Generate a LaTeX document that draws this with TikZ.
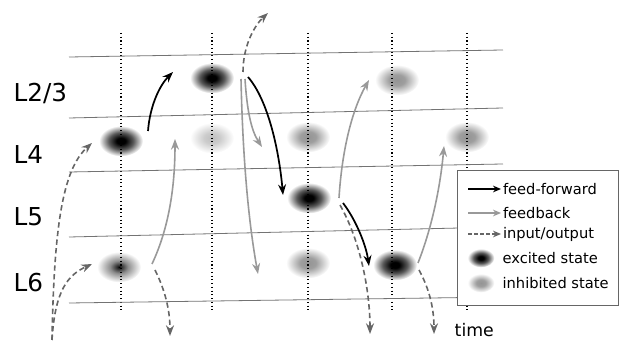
\documentclass[tikz,border=0pt]{standalone}
\usepackage{fontspec}
\setmainfont{DejaVu Sans}
\usepackage{tikz}
\usetikzlibrary{arrows.meta, shapes.geometric}
\pgfdeclareradialshading{excited}{\pgfpoint{0bp}{0bp}}{color(0bp)=(black); color(5bp)=(black); color(14bp)=(black!65); color(25bp)=(white); color(50bp)=(white)}
\pgfdeclareradialshading{weak}{\pgfpoint{0bp}{0bp}}{color(0bp)=(black); color(2bp)=(black!85); color(10bp)=(black!45); color(25bp)=(white); color(50bp)=(white)}
\pgfdeclareradialshading{inhibited}{\pgfpoint{0bp}{0bp}}{color(0bp)=(black!42); color(9bp)=(black!38); color(25bp)=(white); color(50bp)=(white)}
\pgfdeclareradialshading{faint}{\pgfpoint{0bp}{0bp}}{color(0bp)=(black!25); color(9bp)=(black!20); color(25bp)=(white); color(50bp)=(white)}

\begin{document}
\begin{tikzpicture}[x=0.75pt, y=-0.75pt,
    blob/.style={ellipse, inner sep=0pt, minimum width=33pt, minimum height=23pt, shade},
    legblob/.style={blob, minimum width=20pt, minimum height=14pt},
    layer/.style={black!55, line width=0.6pt},
    timeline/.style={dotted, line width=0.8pt},
    ff/.style={-{Stealth[length=8pt, width=6pt]}, line width=1.3pt},
    fb/.style={-{Stealth[length=8pt, width=6pt]}, line width=1.2pt, black!40},
    io/.style={-{Stealth[length=8pt, width=6pt]}, line width=1.2pt, black!60, dash pattern=on 4pt off 2.5pt},
    lab/.style={font=\fontsize{18.5}{20}\selectfont, anchor=west}]
    \useasboundingbox (0,0) rectangle (619,342);

    \node[blob, shading=excited] (e4a) at (121,141) {};
    \node[blob, shading=excited] (e23b) at (212,78) {};
    \node[blob, shading=faint] (i4b) at (212,138) {};
    \node[blob, shading=inhibited] (i4c) at (308,137) {};
    \node[blob, shading=excited] (e5c) at (309,198) {};
    \node[blob, shading=inhibited] (i23d) at (397,80) {};
    \node[blob, shading=inhibited] (i4e) at (467,137) {};
    \node[blob, shading=weak] (e6a) at (119,267) {};
    \node[blob, shading=inhibited] (i6c) at (308,263) {};
    \node[blob, shading=excited] (e6d) at (395,265) {};

    \foreach \t in {121,212,308,392,467}
        \draw[timeline] (\t,33) -- (\t,312);

    \draw[layer] (69,57) -- (503,50);
    \draw[layer] (69,118) -- (503,108);
    \draw[layer] (69,172) -- (503,164);
    \draw[layer] (69,237) -- (503,227);
    \draw[layer] (69,303) -- (503,297);

    \node[lab] (l23) at (9,93) {L2/3};
    \node[lab] (l4) at (9,155) {L4};
    \node[lab] (l5) at (9,217) {L5};
    \node[lab] (l6) at (9,283) {L6};

    \coordinate (ff1s) at (148,131); \coordinate (ff1e) at (173,72);
    \coordinate (ff2s) at (248,77);  \coordinate (ff2e) at (283,195);
    \coordinate (ff3s) at (343,203); \coordinate (ff3e) at (369,266);
    \draw[ff] (ff1s) .. controls (150,105) and (160,85) .. (ff1e);
    \draw[ff] (ff2s) .. controls (268,100) and (279,150) .. (ff2e);
    \draw[ff] (ff3s) .. controls (356,220) and (366,245) .. (ff3e);

    \coordinate (fb1s) at (152,264); \coordinate (fb1e) at (175,139);
    \coordinate (fb2s) at (245,79);  \coordinate (fb2e) at (262,147);
    \coordinate (fb3s) at (241,79);  \coordinate (fb3e) at (258,274);
    \coordinate (fb4s) at (339,198); \coordinate (fb4e) at (369,80);
    \coordinate (fb5s) at (418,263); \coordinate (fb5e) at (444,146);
    \draw[fb] (fb1s) .. controls (168,230) and (175,190) .. (fb1e);
    \draw[fb] (fb2s) .. controls (247,110) and (251,130) .. (fb2e);
    \draw[fb] (fb3s) .. controls (243,170) and (250,230) .. (fb3e);
    \draw[fb] (fb4s) .. controls (342,150) and (352,110) .. (fb4e);
    \draw[fb] (fb5s) .. controls (431,230) and (440,190) .. (fb5e);

    \coordinate (in0) at (52,340);
    \coordinate (io1e) at (92,143);
    \coordinate (io2e) at (92,264);
    \coordinate (io3s) at (155,270); \coordinate (io3e) at (170,336);
    \coordinate (io4s) at (243,72);  \coordinate (io4e) at (268,13);
    \coordinate (io5s) at (340,205); \coordinate (io5e) at (370,334);
    \coordinate (io6s) at (419,270); \coordinate (io6e) at (434,334);
    \draw[io] (in0) .. controls (54,230) and (62,170) .. (io1e);
    \draw[io] (in0) .. controls (55,290) and (68,275) .. (io2e);
    \draw[io] (io3s) .. controls (165,290) and (170,310) .. (io3e);
    \draw[io] (io4s) .. controls (243,45) and (255,25) .. (io4e);
    \draw[io] (io5s) .. controls (360,240) and (370,290) .. (io5e);
    \draw[io] (io6s) .. controls (430,290) and (434,310) .. (io6e);

    \node[font=\fontsize{13}{15}\selectfont, anchor=base west] (time) at (450,337) {time};

    \draw[black!60, fill=white, line width=0.6pt] (457,170) rectangle (618,305);
    \coordinate (lg1) at (468,189);
    \coordinate (lg2) at (468,213);
    \coordinate (lg3) at (468,234);
    \draw[ff, line width=1pt, -{Stealth[length=6pt, width=5pt]}] (lg1) -- ++(33,0) node[right, black, inner sep=1pt, font=\fontsize{11}{13}\selectfont] (t1) {feed-forward};
    \draw[fb, line width=1pt, -{Stealth[length=6pt, width=5pt]}] (lg2) -- ++(33,0) node[right, black, inner sep=1pt, font=\fontsize{11}{13}\selectfont] (t2) {feedback};
    \draw[io, line width=1pt, dash pattern=on 3pt off 1.5pt, -{Stealth[length=6pt, width=5pt]}] (lg3) -- ++(33,0) node[right, black, inner sep=1pt, font=\fontsize{11}{13}\selectfont] (t3) {input/output};
    \node[legblob, shading=excited] (le) at (481,258) {};
    \node[legblob, shading=inhibited] (li) at (481,283) {};
    \node[right, inner sep=1pt, font=\fontsize{11}{13}\selectfont] (t4) at (501,258) {excited state};
    \node[right, inner sep=1pt, font=\fontsize{11}{13}\selectfont] (t5) at (501,283) {inhibited state};
\end{tikzpicture}
\end{document}
